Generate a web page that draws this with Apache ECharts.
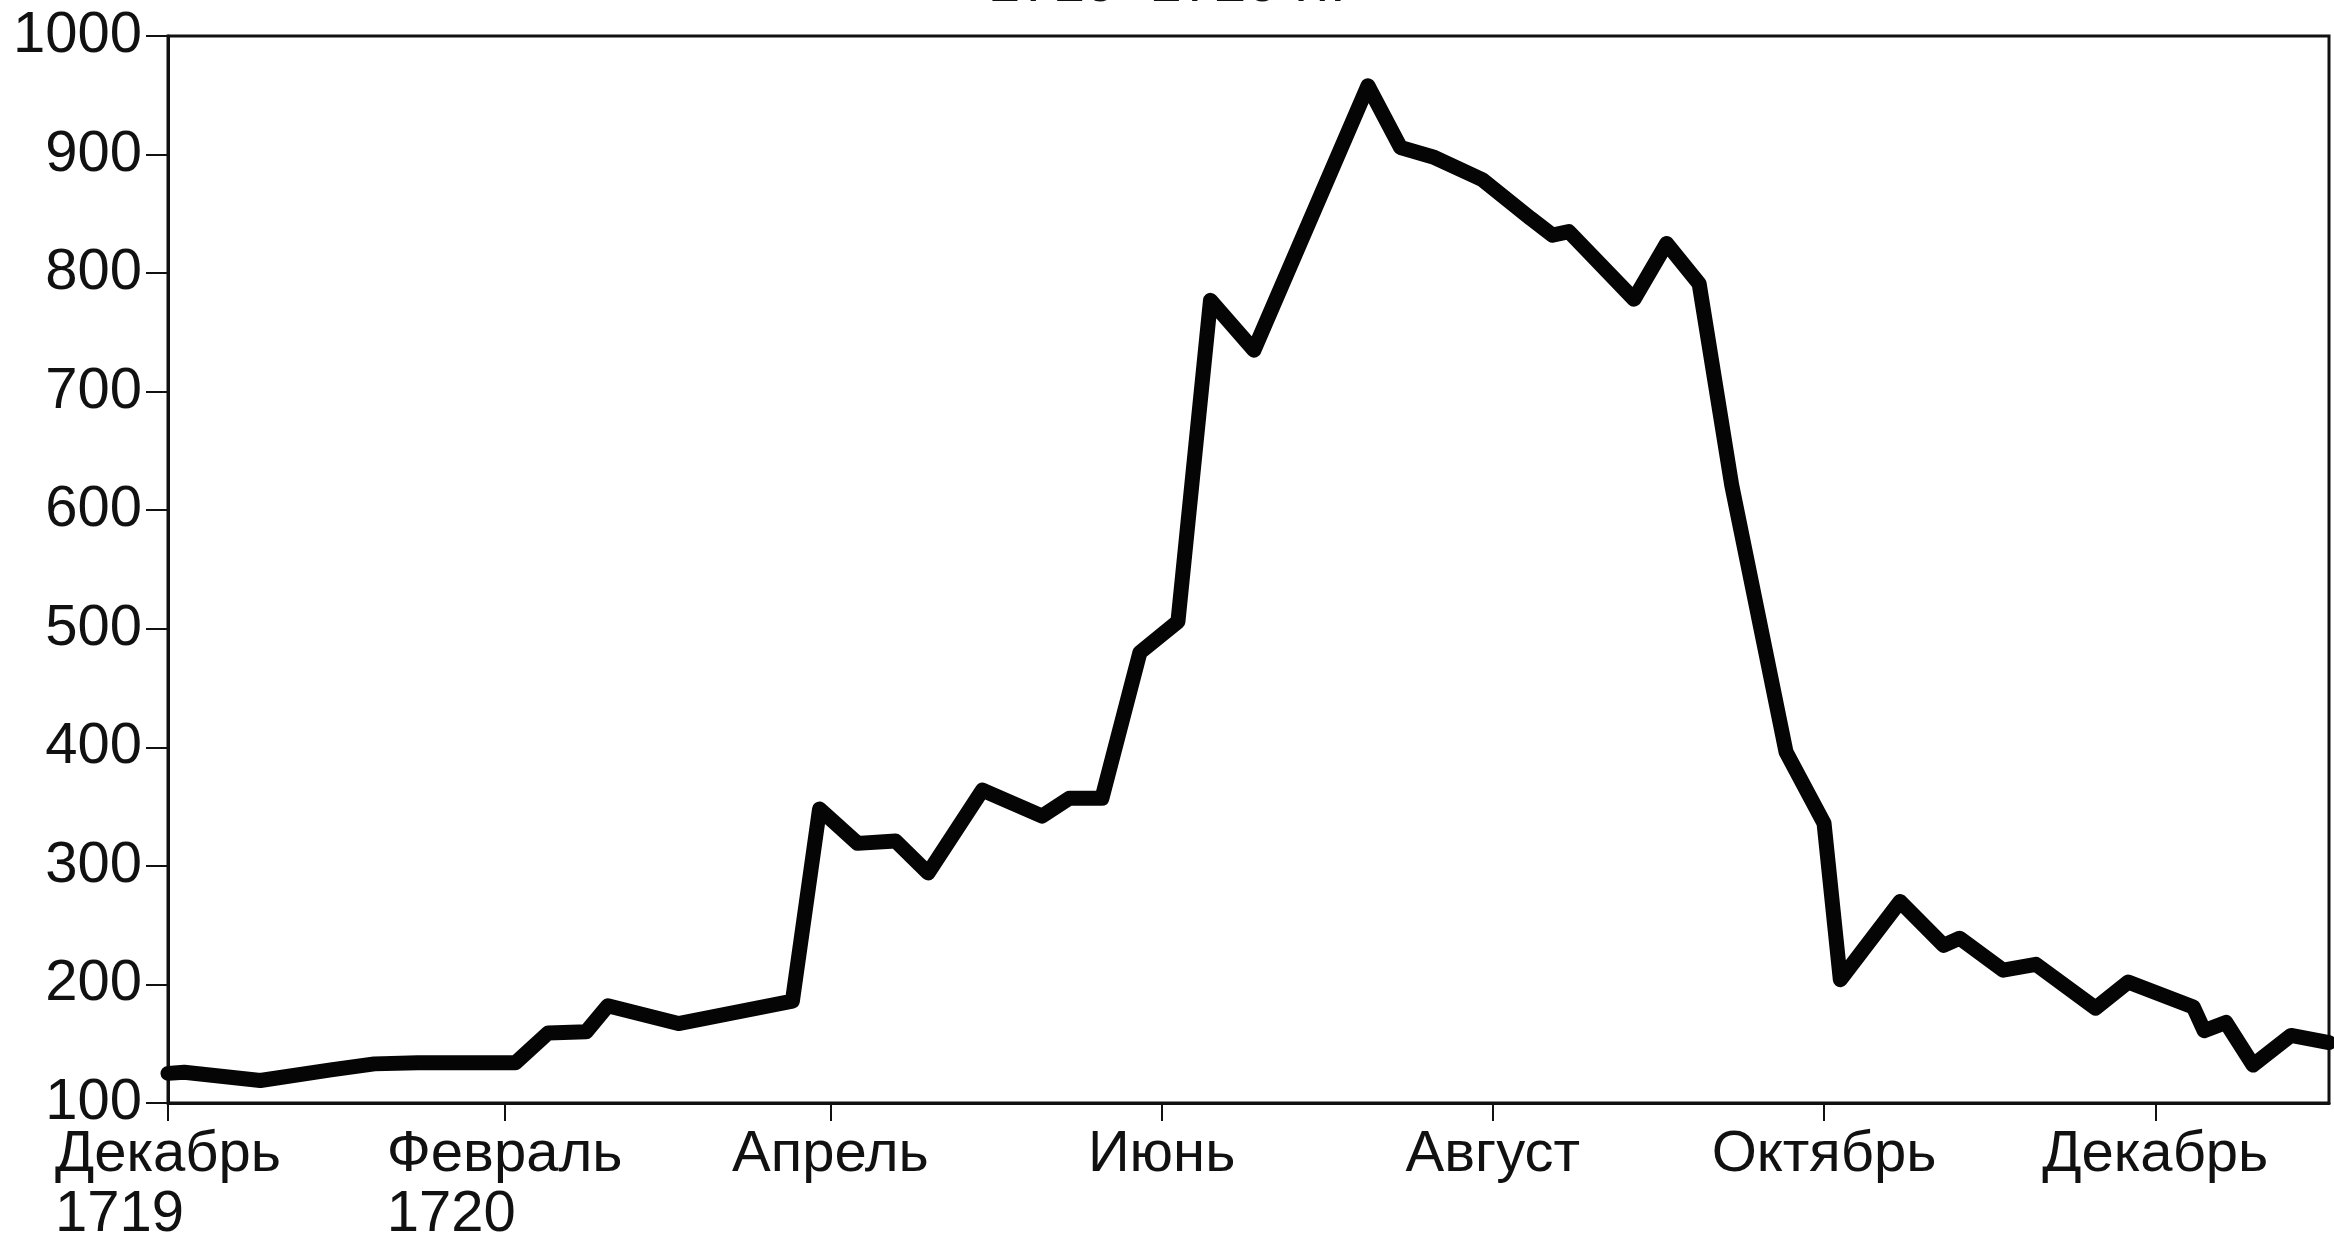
<!DOCTYPE html>
<html>
<head>
<meta charset="utf-8">
<script src="https://cdn.jsdelivr.net/npm/echarts@6/dist/echarts.min.js"></script>
<style>
  html, body { margin: 0; padding: 0; background: #fff; }
  #chart { width: 2334px; height: 1245px; }
</style>
</head>
<body>
<div id="chart"></div>
<script>
// weekly readings
const dates = [
  '1719-12-01', '1719-12-04', '1719-12-18', '1719-12-31', '1720-01-08', '1720-01-16',
  '1720-02-03', '1720-02-09', '1720-02-16', '1720-02-20', '1720-03-04', '1720-03-25',
  '1720-03-30', '1720-04-06', '1720-04-13', '1720-04-19', '1720-04-29', '1720-05-10',
  '1720-05-15', '1720-05-21', '1720-05-28', '1720-06-04', '1720-06-10', '1720-06-18',
  '1720-07-09', '1720-07-15', '1720-07-21', '1720-07-30', '1720-08-08', '1720-08-12',
  '1720-08-15', '1720-08-27', '1720-09-02', '1720-09-08', '1720-09-14', '1720-09-24',
  '1720-10-01', '1720-10-04', '1720-10-15', '1720-10-23', '1720-10-26', '1720-11-03',
  '1720-11-09', '1720-11-20', '1720-11-26', '1720-12-08', '1720-12-10', '1720-12-14',
  '1720-12-19', '1720-12-26', '1721-01-02'
];
const values = [
  125, 126, 119, 128, 133, 134,
  134, 159, 160, 182, 167, 186,
  348, 319, 321, 294, 364, 342,
  357, 357, 480, 506, 777, 735,
  958, 906, 898, 879, 846, 832,
  835, 778, 825, 791, 621, 396,
  336, 204, 270, 233, 239, 212,
  217, 180, 202, 181, 161, 168,
  132, 157, 151
];

// x axis ticks: every other month
const tickDates = ['1719-12-01', '1720-02-01', '1720-04-01', '1720-06-01', '1720-08-01', '1720-10-01', '1720-12-01'];
const tickMonths = ['Декабрь', 'Февраль', 'Апрель', 'Июнь', 'Август', 'Октябрь', 'Декабрь'];
const tickYears = ['1719', '1720', '', '', '', '', ''];
const yTicks = [100, 200, 300, 400, 500, 600, 700, 800, 900, 1000];

const titleText = '1719–1720 гг.';

// x runs in days counted from the first of December 1719
const startDate = '1719-12-01';
const endDate = '1721-01-02';
const DAY = 86400000;
const utc = s => Date.UTC(+s.slice(0, 4), +s.slice(5, 7) - 1, +s.slice(8, 10));
const toDay = s => Math.round((utc(s) - utc(startDate)) / DAY);
const tickDays = tickDates.map(toDay);

const font = '"Liberation Sans", Arial, sans-serif';
const fs = 58;

const chart = echarts.init(document.getElementById('chart'));

chart.setOption({
  animation: false,
  backgroundColor: '#fff',
  title: {
    text: titleText,
    left: 'center',
    top: -49,
    textStyle: { fontFamily: font, fontSize: fs, fontWeight: 'normal', color: '#111' }
  },
  grid: {
    left: 168, right: 5, top: 36, bottom: 137,
    show: true, borderColor: '#111', borderWidth: 3
  },
  xAxis: {
    type: 'value',
    min: 0,
    max: toDay(endDate),
    splitLine: { show: false },
    axisLine: { lineStyle: { color: '#111', width: 3 } },
    axisTick: {
      show: true, customValues: tickDays, length: 18,
      lineStyle: { color: '#111', width: 2 }
    },
    axisLabel: {
      customValues: tickDays,
      margin: 22,
      color: '#111',
      fontFamily: font,
      fontSize: fs,
      lineHeight: 60,
      showMinLabel: true,
      formatter: function (val) {
        const i = tickDays.indexOf(val);
        if (i < 0) return '';
        return tickYears[i] ? '{m|' + tickMonths[i] + '}\n{y|' + tickYears[i] + '}' : '{m|' + tickMonths[i] + '}';
      },
      rich: {
        m: { fontFamily: font, fontSize: fs, lineHeight: 60, color: '#111', align: 'left' },
        y: { fontFamily: font, fontSize: fs, lineHeight: 60, color: '#111', align: 'left' }
      }
    }
  },
  yAxis: {
    type: 'value',
    min: 100,
    max: 1000,
    interval: 100,
    splitLine: { show: false },
    axisLine: { show: true, lineStyle: { color: '#111', width: 3 } },
    axisTick: { show: true, length: 22, lineStyle: { color: '#111', width: 2 } },
    axisLabel: {
      margin: 26,
      color: '#111',
      fontFamily: font,
      fontSize: fs,
      formatter: v => (yTicks.indexOf(v) >= 0 ? String(v) : '')
    }
  },
  series: [{
    type: 'line',
    data: dates.map((d, i) => [toDay(d), values[i]]),
    showSymbol: false,
    symbol: 'none',
    lineStyle: { color: '#050505', width: 15, cap: 'round', join: 'round' }
  }]
});
</script>
</body>
</html>
